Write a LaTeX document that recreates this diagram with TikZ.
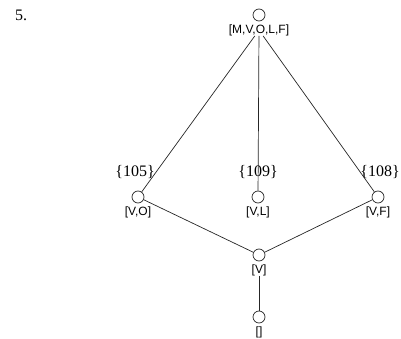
\documentclass[tikz,border=0pt]{standalone}
\usepackage{fontspec}
\setmainfont{Liberation Serif}
\setsansfont{Liberation Sans}
\usetikzlibrary{positioning}
\tikzset{
    %Define style for lattice points
    punkt/.style={
           circle,
           draw=black!85, line width=0.7pt,
           minimum size=12pt,
           inner sep=0pt},
    %Define style for element sets
    menge/.style={
           font=\sffamily\fontsize{12}{12}\selectfont,
           inner sep=0pt},
    %Define style for counts
    zahl/.style={
           font=\fontsize{16}{16}\selectfont,
           inner sep=0pt}
}
\begin{document}
\begin{tikzpicture}[x=1pt,y=-1pt,node distance=3pt]
\useasboundingbox (0,0) rectangle (401,339);
\node[zahl] (nr) at (21,15) {5.};
\node[punkt] (1) at (259,15) {};
\node[menge, below =of 1] (1l) {[M,V,O,L,F]};
\node[punkt] (2) at (138,197) {};
\node[menge, below =of 2] (2l) {[V,O]};
\node[punkt] (3) at (258,197) {};
\node[menge, below =of 3] (3l) {[V,L]};
\node[punkt] (4) at (378,197) {};
\node[menge, below =of 4] (4l) {[V,F]};
\node[punkt] (5) at (259,255) {};
\node[menge, below =of 5] (5l) {[V]};
\node[punkt] (6) at (259,317) {};
\node[menge, below =of 6] (6l) {[]};
\node[zahl] (n2) at (135,172) {\{105\}};
\node[zahl] (n3) at (258,172) {\{109\}};
\node[zahl] (n4) at (380,172) {\{108\}};
 \path[draw=black!85, line width=0.7pt]
    (1l) edge (2)
    (1l) edge (3)
    (1l) edge (4)
    (2) edge (5)
    (4) edge (5)
    (5l) edge (6);
\end{tikzpicture}
\end{document}
